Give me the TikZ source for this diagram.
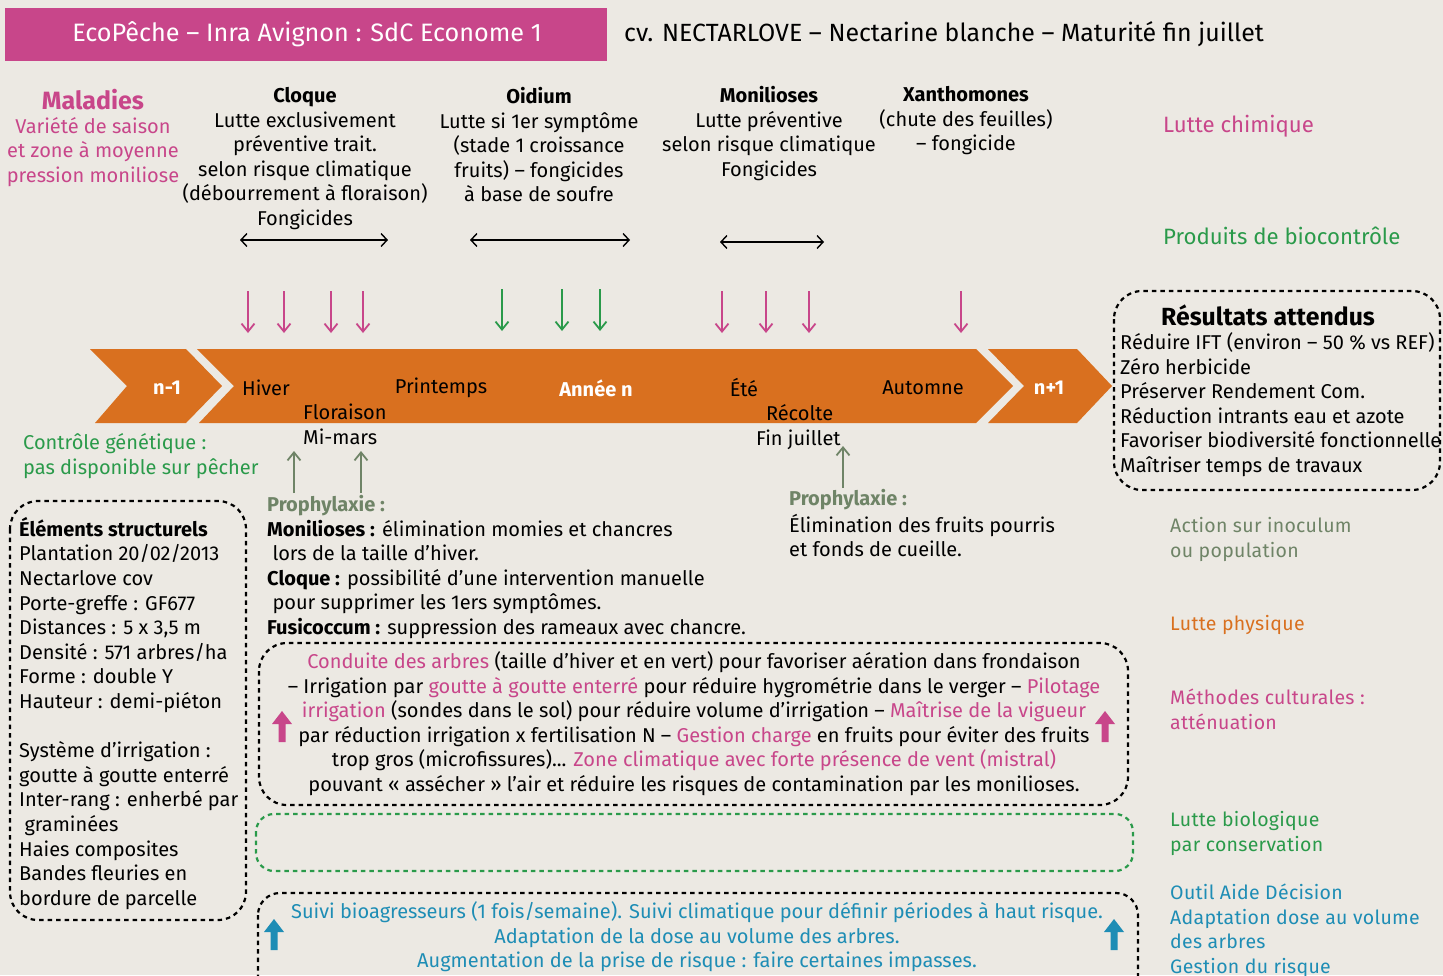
\documentclass[tikz,border=0pt]{standalone}
\usepackage{fontspec}
\setmainfont{Fira Sans}
\usetikzlibrary{arrows.meta}
\definecolor{bg}{HTML}{ECE9E3}
\definecolor{pk}{HTML}{C8468A}
\definecolor{gr}{HTML}{2A9A4A}
\definecolor{gg}{HTML}{6F8467}
\definecolor{og}{HTML}{D9701F}
\definecolor{bl}{HTML}{1E8DB5}
\newcommand\fs{\fontsize{20}{24.6}\selectfont}
\newcommand\pk[1]{\textcolor{pk}{#1}}
\tikzset{
  txt/.style={inner sep=0pt, font=\fs, align=center},
  ltxt/.style={inner sep=0pt, font=\fs, align=left, anchor=north west},
  legtxt/.style={inner sep=0pt, align=left, anchor=north west, font=\fontsize{19.5}{24.6}\selectfont\addfontfeature{LetterSpace=1.5}},
  dbox/.style={draw=black, line width=2.2pt, dash pattern=on 4.5pt off 4pt, rounded corners=28pt},
  downarr/.style={line width=1.8pt, -{Straight Barb[length=8pt,width=13pt,line width=1.8pt]}},
  dblarr/.style={line width=1.4pt, {Straight Barb[length=6pt,width=13pt]}-{Straight Barb[length=6pt,width=13pt]}},
  uparr/.style={gg, line width=1.8pt, -{Straight Barb[length=8pt,width=13pt,line width=1.8pt]}},
}
\begin{document}
\begin{tikzpicture}[x=1pt,y=-1pt]
\fill[bg] (0,0) rectangle (1443,975);
\useasboundingbox (0,0) rectangle (1443,975);
% header
\fill[pk] (5,8) rectangle (607,61);
\node[inner sep=0pt, text=white, font=\fontsize{25.2}{28}\selectfont] (head) at (307,34) {EcoPêche – Inra Avignon : SdC Econome 1};
\node[inner sep=0pt, anchor=west, font=\fontsize{24.9}{28}\selectfont] (cv) at (624,34) {cv. NECTARLOVE – Nectarine blanche – Maturité fin juillet};
% diseases
\node[txt, anchor=north, text=pk] (mal) at (93,89) {\fontsize{25}{27}\selectfont\bfseries\strut Maladies\\[-1pt]\fs Variété de saison\\et zone à moyenne\\pression moniliose};
\node[txt, anchor=north] (cloque) at (305,85) {\strut\textbf{Cloque}\\Lutte exclusivement\\préventive trait.\\selon risque climatique\\(débourrement à floraison)\\Fongicides};
\node[txt, anchor=north] (oidium) at (539,86) {\strut\textbf{Oidium}\\Lutte si 1er symptôme\\(stade 1 croissance\\fruits) – fongicides\\à base de soufre};
\node[txt, anchor=north] (monil) at (769,85) {\strut\textbf{Monilioses}\\Lutte préventive\\selon risque climatique\\Fongicides};
\node[txt, anchor=north] (xanth) at (966,84) {\strut\textbf{Xanthomones}\\(chute des feuilles)\\– fongicide};
% legend right
\node[inner sep=0pt, anchor=west, text=pk, font=\fontsize{22.2}{25}\selectfont] (lchim) at (1163,126) {Lutte chimique};
\node[inner sep=0pt, anchor=west, text=gr, font=\fontsize{22.2}{25}\selectfont] (lbio) at (1163,236) {Produits de biocontrôle};
% double arrows
\coordinate (d1a) at (240,240); \coordinate (d1b) at (388,240);
\coordinate (d2a) at (470,240); \coordinate (d2b) at (630,240);
\coordinate (d3a) at (720,242); \coordinate (d3b) at (824,242);
\draw[dblarr] (d1a) -- (d1b);
\draw[dblarr] (d2a) -- (d2b);
\draw[dblarr] (d3a) -- (d3b);
% down arrows
\foreach \x [count=\i] in {248,284,331,363,722,766,809,961}{
  \coordinate (pa\i) at (\x,291); \coordinate (pb\i) at (\x,333);
  \draw[downarr, pk] (pa\i) -- (pb\i);}
\foreach \x [count=\i] in {502,562,600}{
  \coordinate (ga\i) at (\x,289); \coordinate (gb\i) at (\x,331);
  \draw[downarr, gr] (ga\i) -- (gb\i);}
% band
\fill[og] (90,349) -- (186,349) -- (222,386) -- (186,423) -- (95,423) -- (127,386) -- cycle;
\fill[og] (197,349) -- (976,349) -- (1013,386) -- (976,423) -- (199,423) -- (234,386) -- cycle;
\fill[og] (988,349) -- (1077,349) -- (1112,386) -- (1077,423) -- (988,423) -- (1024,386) -- cycle;
\node[inner sep=0pt, text=white, font=\fs\bfseries] (nm1) at (167,388) {n-1};
\node[inner sep=0pt, text=white, font=\fs\bfseries] (np1) at (1049,388) {n+1};
\node[inner sep=0pt, font=\fs] (hiver) at (266,388) {Hiver};
\node[inner sep=0pt, font=\fs] (print) at (441,388) {Printemps};
\node[inner sep=0pt, text=white, font=\fs\bfseries] (annee) at (596,388) {Année n};
\node[inner sep=0pt, font=\fs] (ete) at (744,388) {Été};
\node[inner sep=0pt, font=\fs] (autom) at (923,388) {Automne};
\node[ltxt] (flor) at (303,402) {\strut Floraison\\Mi-mars};
\node[ltxt] (recol) at (756,403) {\strut\phantom{F}Récolte\\Fin juillet};
% genetic
\node[ltxt, text=gr] (genet) at (23,432) {\strut Contrôle génétique :\\pas disponible sur pêcher};
% up arrows prophylaxie
\coordinate (u1a) at (294,493); \coordinate (u1b) at (294,451);
\coordinate (u2a) at (361,493); \coordinate (u2b) at (361,451);
\coordinate (u3a) at (843,488); \coordinate (u3b) at (843,446);
\draw[uparr] (u1a) -- (u1b);
\draw[uparr] (u2a) -- (u2b);
\draw[uparr] (u3a) -- (u3b);
\node[ltxt] (proph1) at (267,494) {\strut\textcolor{gg}{\textbf{Prophylaxie :}}\\
\textbf{Monilioses :} élimination momies et chancres\\
\ lors de la taille d’hiver.\\
\textbf{Cloque :} possibilité d’une intervention manuelle\\
\ pour supprimer les 1ers symptômes.\\
\textbf{Fusicoccum :} suppression des rameaux avec chancre.};
\node[ltxt] (proph2) at (789,488) {\strut\textcolor{gg}{\textbf{Prophylaxie :}}\\
Élimination des fruits pourris\\et fonds de cueille.};
% resultats
\draw[dbox] (1114,291) rectangle (1440,490);
\node[inner sep=0pt, font=\fontsize{24.8}{28}\selectfont\bfseries] (restitle) at (1268,315) {Résultats attendus};
\node[ltxt] (res) at (1120,332) {\strut Réduire IFT (environ – 50 \% vs REF)\\Zéro herbicide\\Préserver Rendement Com.\\Réduction intrants eau et azote\\Favoriser biodiversité fonctionnelle\\Maîtriser temps de travaux};
% elements structurels
\draw[dbox] (10,501) rectangle (246,920);
\node[ltxt] (elem) at (19,517) {\strut\textbf{Éléments structurels}\\Plantation 20/02/2013\\Nectarlove cov\\Porte-greffe : GF677\\Distances : 5 x 3,5 m\\Densité : 571 arbres/ha\\Forme : double Y\\Hauteur : demi-piéton\\[24.6pt]
Système d’irrigation :\\goutte à goutte enterré\\Inter-rang : enherbé par\\\ graminées\\Haies composites\\Bandes fleuries en\\bordure de parcelle};
% culturales box
\draw[dbox] (259,643) rectangle (1128,805);
\node[txt, anchor=north] (cult) at (694,651) {\strut\pk{Conduite des arbres} (taille d’hiver et en vert) pour favoriser aération dans frondaison\\
– Irrigation par \pk{goutte à goutte enterré} pour réduire hygrométrie dans le verger – \pk{Pilotage}\\
\pk{irrigation} (sondes dans le sol) pour réduire volume d’irrigation – \pk{Maîtrise de la vigueur}\\
par réduction irrigation x fertilisation N – \pk{Gestion charge} en fruits pour éviter des fruits\\
trop gros (microfissures)... \pk{Zone climatique avec forte présence de vent (mistral)}\\
pouvant « assécher » l’air et réduire les risques de contamination par les monilioses.};
\fill[pk] (278.5,742) -- (278.5,724) -- (272,724) -- (282,711) -- (292,724) -- (285.5,724) -- (285.5,742) -- cycle;
\fill[pk] (1101.5,742) -- (1101.5,724) -- (1095,724) -- (1105,711) -- (1115,724) -- (1108.5,724) -- (1108.5,742) -- cycle;
% green box
\draw[dbox, draw=gr, rounded corners=18pt] (256,814) rectangle (1133,871);
% bottom box (continues past the lower edge)
\begin{scope}
\clip (0,0) rectangle (1443,975);
\draw[dbox, rounded corners=22pt] (258,893) rectangle (1138,1030);
\end{scope}
\node[txt, anchor=north, text=bl] (suivi) at (697,901) {\strut Suivi bioagresseurs (1 fois/semaine). Suivi climatique pour définir périodes à haut risque.\\
Adaptation de la dose au volume des arbres.\\
Augmentation de la prise de risque : faire certaines impasses.};
\fill[bl] (270.5,950) -- (270.5,932) -- (264,932) -- (274,919) -- (284,932) -- (277.5,932) -- (277.5,950) -- cycle;
\fill[bl] (1110.5,950) -- (1110.5,932) -- (1104,932) -- (1114,919) -- (1124,932) -- (1117.5,932) -- (1117.5,950) -- cycle;
% legend lower
\node[legtxt, text=gg] (act) at (1170,515) {\strut Action sur inoculum\\ou population};
\node[legtxt, text=og] (lphys) at (1170,613) {\strut Lutte physique};
\node[legtxt, text=pk] (meth) at (1170,687) {\strut Méthodes culturales :\\atténuation};
\node[legtxt, text=gr] (lbiol) at (1170,809) {\strut Lutte biologique\\par conservation};
\node[legtxt, text=bl] (oad) at (1170,882) {\strut Outil Aide Décision\\Adaptation dose au volume\\des arbres\\Gestion du risque};
\end{tikzpicture}
\end{document}
